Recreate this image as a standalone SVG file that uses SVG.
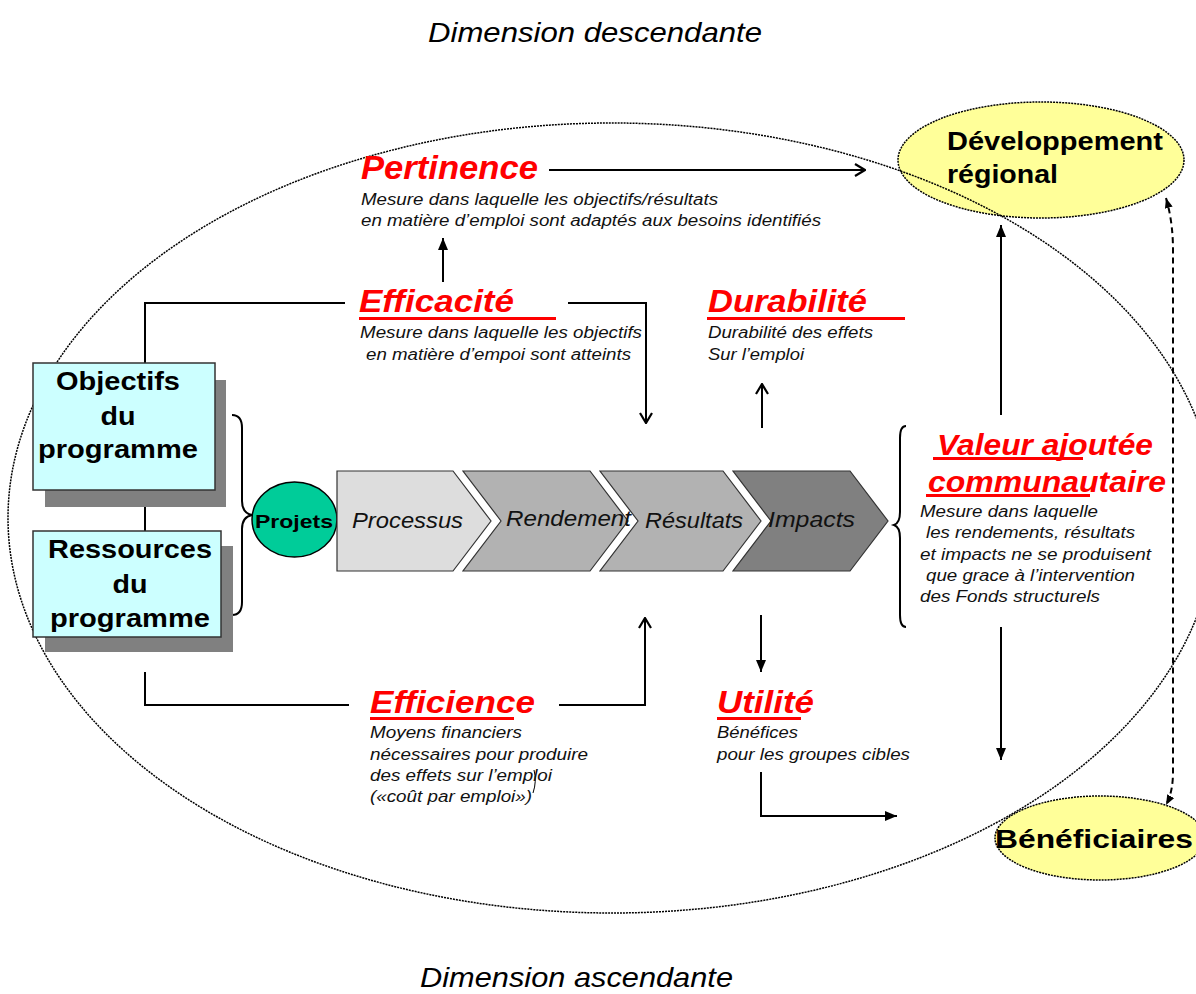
<svg xmlns="http://www.w3.org/2000/svg" width="1196" height="994" viewBox="0 0 1196 994">
<style>
text{font-family:"Liberation Sans",Arial,sans-serif;}
.cap{font-size:28px;font-style:italic;fill:#000;}
.box{fill:#ccffff;stroke:#333;stroke-width:1.5;}
.shadow{fill:#808080;}
.bt{font-size:25px;font-weight:bold;fill:#000;}
.head{font-weight:bold;font-style:italic;fill:#ff0000;}
.ul{fill:#ff0000;}
.desc{font-size:16px;font-style:italic;fill:#111;}
.chev{stroke:#333;stroke-width:1.2;}
.ct{font-size:22px;font-style:italic;fill:#111;}
.ln{fill:none;stroke:#000;stroke-width:2;}
.dot{fill:none;stroke:#000;stroke-width:1.5;stroke-dasharray:2 1;}
.yel{fill:#ffff99;stroke:#000;stroke-width:1.5;stroke-dasharray:2 1;}
</style>
<defs>
<marker id="open" viewBox="0 0 12 14" refX="11" refY="7" markerWidth="12" markerHeight="14" markerUnits="userSpaceOnUse" orient="auto">
<path d="M1,1 L11,7 L1,13" fill="none" stroke="#000" stroke-width="2.2"/>
</marker>
<marker id="fill" viewBox="0 0 12 10" refX="12" refY="5" markerWidth="12" markerHeight="10" markerUnits="userSpaceOnUse" orient="auto">
<path d="M0,0 L12,5 L0,10 z" fill="#000"/>
</marker>
<marker id="small" viewBox="0 0 10 8" refX="10" refY="4" markerWidth="10" markerHeight="8" markerUnits="userSpaceOnUse" orient="auto">
<path d="M0,0 L10,4 L0,8 z" fill="#000"/>
</marker>
<marker id="smallStart" viewBox="0 0 10 8" refX="0" refY="4" markerWidth="10" markerHeight="8" markerUnits="userSpaceOnUse" orient="auto">
<path d="M10,0 L0,4 L10,8 z" fill="#000"/>
</marker>
</defs>

<rect x="0" y="0" width="1196" height="994" fill="#ffffff"/>

<text class="cap" x="428" y="42" textLength="334" lengthAdjust="spacingAndGlyphs">Dimension descendante</text>
<text class="cap" x="420" y="987" textLength="313" lengthAdjust="spacingAndGlyphs">Dimension ascendante</text>

<g id="developpement">
<ellipse class="yel" cx="1041" cy="160" rx="143" ry="58"/>
<text class="bt" x="947" y="150" font-size="25" textLength="216" lengthAdjust="spacingAndGlyphs">Développement</text>
<text class="bt" x="947" y="183" font-size="25" textLength="111" lengthAdjust="spacingAndGlyphs">régional</text>
</g>

<g id="frame">
<ellipse class="dot" cx="612" cy="518" rx="604" ry="395"/>
</g>

<g id="beneficiaires">
<ellipse class="yel" cx="1100" cy="838" rx="105" ry="42"/>
<text class="bt" x="995" y="848" font-size="27" textLength="198" lengthAdjust="spacingAndGlyphs">Bénéficiaires</text>
</g>

<g id="connectors">
<polyline class="ln" points="145,363 145,303 345,303"/>
<line class="ln" x1="145" y1="490" x2="145" y2="531"/>
<polyline class="ln" points="568,303 646,303 646,423" marker-end="url(#open)"/>
<line class="ln" x1="443" y1="282" x2="443" y2="238" marker-end="url(#fill)"/>
<line class="ln" x1="549" y1="170" x2="865" y2="170" marker-end="url(#open)"/>
<line class="ln" x1="762" y1="428" x2="762" y2="384" marker-end="url(#open)"/>
<line class="ln" x1="761" y1="615" x2="761" y2="672" marker-end="url(#fill)"/>
<polyline class="ln" points="145,672 145,705 349,705"/>
<polyline class="ln" points="559,705 645,705 645,618" marker-end="url(#open)"/>
<polyline class="ln" points="761,772 761,816 897,816" marker-end="url(#fill)"/>
<line class="ln" x1="1001" y1="415" x2="1001" y2="225" marker-end="url(#fill)"/>
<line class="ln" x1="1001" y1="627" x2="1001" y2="760" marker-end="url(#fill)"/>
<path d="M1166,198 Q1173,222 1173,250 L1173,772 Q1173,792 1166,805" fill="none" stroke="#000" stroke-width="2" stroke-dasharray="6 4" marker-start="url(#smallStart)" marker-end="url(#small)"/>
<path d="M232,415 Q242,415 242,428 L242,501 Q242,513 252,515 Q242,517 242,529 L242,602 Q242,615 232,615" fill="none" stroke="#000" stroke-width="2"/>
<path d="M906,426 Q900,426 900,438 L900,512 Q900,523 894,525 Q900,527 900,538 L900,615 Q900,627 906,627" fill="none" stroke="#000" stroke-width="2"/>
<path d="M534,770 Q537,781 533,793" fill="none" stroke="#000" stroke-width="1"/>
</g>

<g id="objectifs">
<rect class="shadow" x="45" y="380" width="181" height="127"/>
<rect class="box" x="33" y="363" width="182" height="127"/>
<text class="bt" x="118" y="390" text-anchor="middle" textLength="124" lengthAdjust="spacingAndGlyphs">Objectifs</text>
<text class="bt" x="118" y="425" text-anchor="middle" textLength="35" lengthAdjust="spacingAndGlyphs">du</text>
<text class="bt" x="118" y="458" text-anchor="middle" textLength="160" lengthAdjust="spacingAndGlyphs">programme</text>
</g>

<g id="ressources">
<rect class="shadow" x="45" y="546" width="188" height="106"/>
<rect class="box" x="33" y="531" width="188" height="106"/>
<text class="bt" x="130" y="558" text-anchor="middle" textLength="164" lengthAdjust="spacingAndGlyphs">Ressources</text>
<text class="bt" x="130" y="593" text-anchor="middle" textLength="35" lengthAdjust="spacingAndGlyphs">du</text>
<text class="bt" x="130" y="627" text-anchor="middle" textLength="160" lengthAdjust="spacingAndGlyphs">programme</text>
</g>

<g id="projets">
<ellipse cx="294.5" cy="519.5" rx="42.5" ry="37.5" fill="#00cc99" stroke="#000" stroke-width="1.5"/>
<text x="294" y="528" text-anchor="middle" font-size="19" font-weight="bold" fill="#000" textLength="78" lengthAdjust="spacingAndGlyphs">Projets</text>
</g>

<g id="processus">
<polygon class="chev" fill="#dddddd" points="337,471 453,471 491,521 453,571 337,571"/>
<text class="ct" x="352" y="528" textLength="111" lengthAdjust="spacingAndGlyphs">Processus</text>
</g>
<g id="rendement">
<polygon class="chev" fill="#b2b2b2" points="463,471 590,471 628,521 590,571 463,571 501,521"/>
<text class="ct" x="506" y="526" textLength="125" lengthAdjust="spacingAndGlyphs">Rendement</text>
</g>
<g id="resultats">
<polygon class="chev" fill="#b2b2b2" points="600,471 723,471 761,521 723,571 600,571 638,521"/>
<text class="ct" x="645" y="528" textLength="98" lengthAdjust="spacingAndGlyphs">Résultats</text>
</g>
<g id="impacts">
<polygon class="chev" fill="#808080" points="733,471 850,471 888,521 850,571 733,571 771,521"/>
<text class="ct" x="768" y="527" textLength="87" lengthAdjust="spacingAndGlyphs">Impacts</text>
</g>

<g id="pertinence">
<text class="head" x="361" y="179" font-size="33" textLength="177" lengthAdjust="spacingAndGlyphs">Pertinence</text>
<text class="desc" x="361" y="205" textLength="357" lengthAdjust="spacingAndGlyphs">Mesure dans laquelle les objectifs/résultats</text>
<text class="desc" x="361" y="226" textLength="460" lengthAdjust="spacingAndGlyphs">en matière d’emploi sont adaptés aux besoins identifiés</text>
</g>

<g id="efficacite">
<text class="head" x="359" y="312" font-size="31" textLength="155" lengthAdjust="spacingAndGlyphs">Efficacité</text>
<rect class="ul" x="359" y="317" width="197" height="3"/>
<text class="desc" x="360" y="338" textLength="282" lengthAdjust="spacingAndGlyphs">Mesure dans laquelle les objectifs</text>
<text class="desc" x="366" y="360" textLength="265" lengthAdjust="spacingAndGlyphs">en matière d’empoi sont atteints</text>
</g>

<g id="durabilite">
<text class="head" x="708" y="312" font-size="31" textLength="159" lengthAdjust="spacingAndGlyphs">Durabilité</text>
<rect class="ul" x="707" y="317" width="198" height="3"/>
<text class="desc" x="708" y="338" textLength="165" lengthAdjust="spacingAndGlyphs">Durabilité des effets</text>
<text class="desc" x="708" y="360" textLength="96" lengthAdjust="spacingAndGlyphs">Sur l’emploi</text>
</g>

<g id="valeur">
<text class="head" x="937" y="455" font-size="30" textLength="216" lengthAdjust="spacingAndGlyphs">Valeur ajoutée</text>
<rect class="ul" x="933" y="457" width="150" height="3"/>
<text class="head" x="928" y="492" font-size="30" textLength="238" lengthAdjust="spacingAndGlyphs">communautaire</text>
<rect class="ul" x="926" y="494" width="164" height="3"/>
<text class="desc" x="920" y="517" textLength="178" lengthAdjust="spacingAndGlyphs">Mesure dans laquelle</text>
<text class="desc" x="926" y="538" textLength="209" lengthAdjust="spacingAndGlyphs">les rendements, résultats</text>
<text class="desc" x="920" y="560" textLength="231" lengthAdjust="spacingAndGlyphs">et impacts ne se produisent</text>
<text class="desc" x="926" y="581" textLength="209" lengthAdjust="spacingAndGlyphs">que grace à l’intervention</text>
<text class="desc" x="920" y="602" textLength="180" lengthAdjust="spacingAndGlyphs">des Fonds structurels</text>
</g>

<g id="efficience">
<text class="head" x="370" y="713" font-size="32" textLength="165" lengthAdjust="spacingAndGlyphs">Efficience</text>
<rect class="ul" x="370" y="717" width="144" height="3"/>
<text class="desc" x="370" y="738" textLength="152" lengthAdjust="spacingAndGlyphs">Moyens financiers</text>
<text class="desc" x="370" y="760" textLength="218" lengthAdjust="spacingAndGlyphs">nécessaires pour produire</text>
<text class="desc" x="370" y="781" textLength="182" lengthAdjust="spacingAndGlyphs">des effets sur l’emploi</text>
<text class="desc" x="370" y="802" textLength="162" lengthAdjust="spacingAndGlyphs">(«coût par emploi»)</text>
</g>

<g id="utilite">
<text class="head" x="717" y="713" font-size="32" textLength="97" lengthAdjust="spacingAndGlyphs">Utilité</text>
<rect class="ul" x="717" y="717" width="84" height="3"/>
<text class="desc" x="717" y="738" textLength="81" lengthAdjust="spacingAndGlyphs">Bénéfices</text>
<text class="desc" x="717" y="760" textLength="193" lengthAdjust="spacingAndGlyphs">pour les groupes cibles</text>
</g>
</svg>
